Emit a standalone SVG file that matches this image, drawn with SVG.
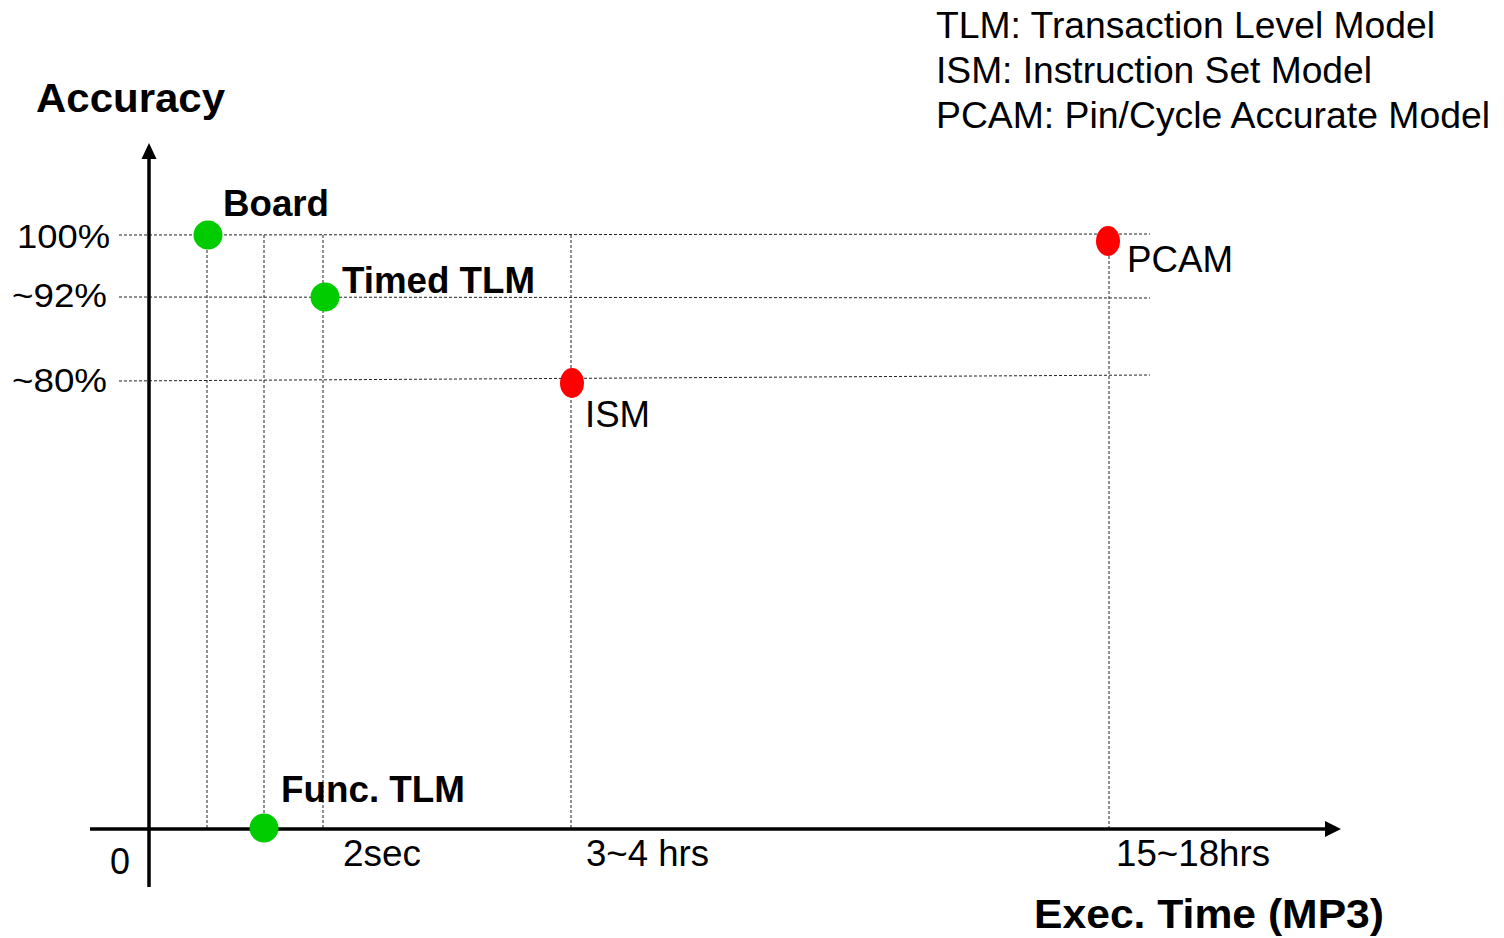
<svg xmlns="http://www.w3.org/2000/svg" width="1504" height="938" viewBox="0 0 1504 938">
<style>
  .grid { stroke: #222; stroke-width: 1; stroke-dasharray: 3 2; fill: none; }
  .axis { stroke: #000; stroke-width: 3.5; fill: none; }
  .t { font-family: "Liberation Sans", Arial, sans-serif; font-size: 36px; fill: #000; }
  .b { font-family: "Liberation Sans", Arial, sans-serif; font-size: 36px; font-weight: bold; fill: #000; }
  .green { fill: #00CC00; }
  .red { fill: #FF0000; }
</style>
<rect width="1504" height="938" fill="#fff"/>
<g id="legend">
  <text class="t" x="936" y="38" textLength="499" lengthAdjust="spacingAndGlyphs">TLM: Transaction Level Model</text>
  <text class="t" x="936" y="83" textLength="436" lengthAdjust="spacingAndGlyphs">ISM: Instruction Set Model</text>
  <text class="t" x="936" y="128" textLength="554" lengthAdjust="spacingAndGlyphs">PCAM: Pin/Cycle Accurate Model</text>
</g>
<g id="grid">
  <line class="grid" x1="119" y1="235" x2="1150" y2="234"/>
  <line class="grid" x1="119" y1="297" x2="1150" y2="298"/>
  <line class="grid" x1="119" y1="381" x2="1150" y2="375"/>
  <line class="grid" x1="207" y1="235" x2="207" y2="829"/>
  <line class="grid" x1="264" y1="235" x2="264" y2="829"/>
  <line class="grid" x1="323" y1="235" x2="323" y2="829"/>
  <line class="grid" x1="571" y1="235" x2="571" y2="829"/>
  <line class="grid" x1="1109" y1="241" x2="1109" y2="829"/>
</g>
<g id="axes">
  <line class="axis" x1="149" y1="156" x2="149" y2="887"/>
  <polygon points="149,143 141.5,159 156.5,159" fill="#000"/>
  <line class="axis" x1="90" y1="829" x2="1326" y2="829"/>
  <polygon points="1341,829 1325,821 1325,837" fill="#000"/>
</g>
<g id="axis-labels">
  <text class="b" x="36" y="112" style="font-size:40px" textLength="189" lengthAdjust="spacingAndGlyphs">Accuracy</text>
  <text class="b" x="1034" y="928" style="font-size:40px" textLength="350" lengthAdjust="spacingAndGlyphs">Exec. Time (MP3)</text>
  <text class="t" x="17" y="248" style="font-size:34px" textLength="93" lengthAdjust="spacingAndGlyphs">100%</text>
  <text class="t" x="12" y="307" style="font-size:34px" textLength="95" lengthAdjust="spacingAndGlyphs">~92%</text>
  <text class="t" x="12" y="392" style="font-size:34px" textLength="95" lengthAdjust="spacingAndGlyphs">~80%</text>
  <text class="t" x="110" y="874" textLength="20" lengthAdjust="spacingAndGlyphs">0</text>
  <text class="t" x="343" y="866" textLength="78" lengthAdjust="spacingAndGlyphs">2sec</text>
  <text class="t" x="586" y="866" textLength="123" lengthAdjust="spacingAndGlyphs">3~4 hrs</text>
  <text class="t" x="1116" y="866" textLength="154" lengthAdjust="spacingAndGlyphs">15~18hrs</text>
</g>
<g id="node-board">
  <circle class="green" cx="208" cy="235" r="14.5"/>
  <text class="b" x="223" y="216" textLength="106" lengthAdjust="spacingAndGlyphs">Board</text>
</g>
<g id="node-timed-tlm">
  <circle class="green" cx="325" cy="297" r="14.5"/>
  <text class="b" x="342" y="293" textLength="193" lengthAdjust="spacingAndGlyphs">Timed TLM</text>
</g>
<g id="node-func-tlm">
  <circle class="green" cx="264" cy="828" r="14.5"/>
  <text class="b" x="281" y="802" textLength="184" lengthAdjust="spacingAndGlyphs">Func. TLM</text>
</g>
<g id="node-ism">
  <ellipse class="red" cx="572" cy="383" rx="12" ry="15"/>
  <text class="t" x="585" y="427" textLength="65" lengthAdjust="spacingAndGlyphs">ISM</text>
</g>
<g id="node-pcam">
  <ellipse class="red" cx="1108" cy="241" rx="12" ry="15"/>
  <text class="t" x="1127" y="272" textLength="106" lengthAdjust="spacingAndGlyphs">PCAM</text>
</g>
</svg>
